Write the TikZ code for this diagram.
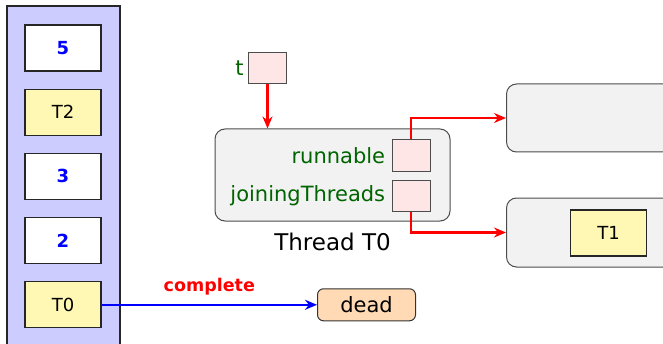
\documentclass[tikz,border=0pt]{standalone}
\usepackage{fontspec}
\setmainfont{DejaVu Sans}
\usepackage{xcolor}
\usetikzlibrary{arrows.meta, positioning, calc}
\definecolor{stackbg}{HTML}{CCCCFF}
\definecolor{cellyel}{HTML}{FFF8B4}
\definecolor{fieldbg}{HTML}{FFE6E6}
\definecolor{objbg}{HTML}{F2F2F2}
\definecolor{deadbg}{HTML}{FFDAB4}
\definecolor{fieldname}{HTML}{006400}

\begin{document}
\begin{tikzpicture}[
  x=0.5pt, y=0.5pt,
  node distance=8.5pt,
  every node/.style={font=\fontsize{10.5}{12}\selectfont},
  cell/.style={
    rectangle, draw=black!85, line width=0.6pt,
    minimum width=38pt, minimum height=23pt, inner sep=0pt,
    font=\fontsize{9}{11}\selectfont
  },
  numcell/.style={cell, fill=white, text=blue, font=\fontsize{9}{11}\selectfont\bfseries},
  thrcell/.style={cell, fill=cellyel},
  field/.style={
    rectangle, draw=black!70, fill=fieldbg, line width=0.5pt,
    minimum width=19pt, minimum height=15.5pt, inner sep=0pt
  },
  obj/.style={
    rectangle, rounded corners=5pt, draw=black!70, fill=objbg, line width=0.5pt,
    inner sep=0pt
  },
  fname/.style={text=fieldname, inner sep=2pt},
  ref/.style={-{Stealth[length=6pt, width=5pt]}, draw=red, line width=1.2pt}
]
\useasboundingbox (0,0) rectangle (663,343);
\clip (0,0) rectangle (663,343);

% thread stack
\draw[fill=stackbg, draw=black!85, line width=0.6pt] (7,-10) rectangle (120,337);
\node[numcell] (c5) at (63,295) {5};
\node[thrcell, below=of c5] (c4) {T2};
\node[numcell, below=of c4] (c3) {3};
\node[numcell, below=of c3] (c2) {2};
\node[thrcell, below=of c2] (c1) {T0};

% thread object
\node[obj, minimum width=117.5pt, minimum height=46pt] (thr) at (332.5,168) {};
\node[field] (run)  at (411,187.5) {};
\node[field] (join) at (411,147.5) {};
\node[fname, left=1pt of run]  (runlbl)  {runnable};
\node[fname, left=1pt of join] (joinlbl) {joiningThreads};
\node[below=2pt of thr, font=\fontsize{11.5}{13}\selectfont] (thrlbl) {Thread T0};

% variable t
\node[field] (t) at (267.5,274.5) {};
\node[fname, left=0pt of t] (tlbl) {t};

% referenced objects
\node[obj, minimum width=90pt, minimum height=34pt, anchor=west] (runobj)  at (506,225) {};
\node[obj, minimum width=90pt, minimum height=34.5pt, anchor=west] (joinobj) at (506,110.5) {};
\node[thrcell] (t1) at (608.5,110) {T1};

% dead state
\node[rectangle, rounded corners=3pt, draw=black!80, fill=deadbg, line width=0.5pt,
      minimum width=49pt, minimum height=16pt, inner sep=0pt,
      anchor=west] (dead) at (c1.east -| 317,0) {dead};

\draw[ref] (t) -- (t |- thr.north);
\draw[ref] (run.north) |- (runobj.west);
\draw[ref] (join.south) |- (joinobj.west);
\draw[-{Stealth[length=6pt, width=5pt]}, draw=blue, line width=1pt] (c1.east) -- (dead.west)
  node[midway, above=1pt, text=red, font=\fontsize{8.75}{10}\selectfont\bfseries] {complete};
\end{tikzpicture}
\end{document}
